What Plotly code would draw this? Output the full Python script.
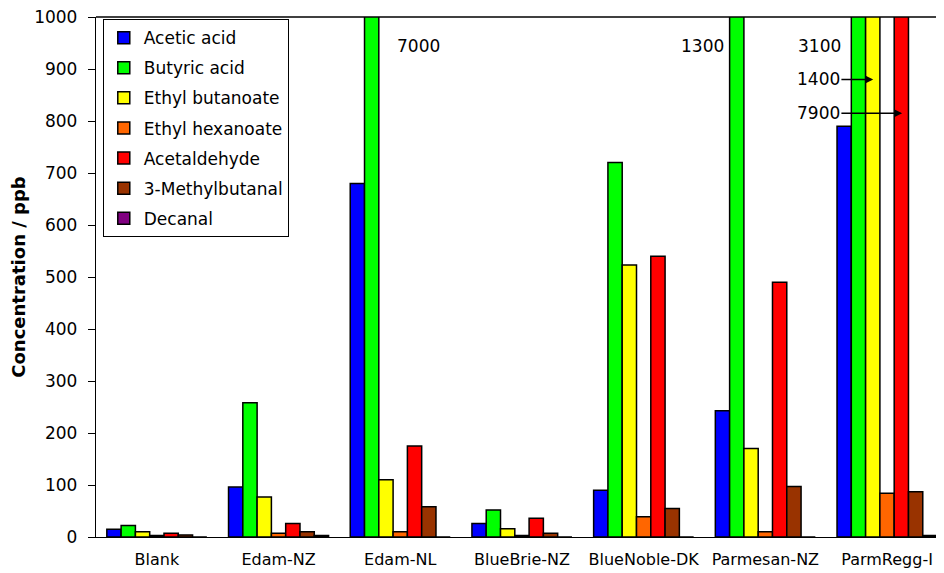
import plotly.graph_objects as go

categories = ["Blank", "Edam-NZ", "Edam-NL", "BlueBrie-NZ", "BlueNoble-DK", "Parmesan-NZ", "ParmRegg-I"]

acetic_acid = [15, 96, 680, 26, 90, 243, 790]
butyric_acid = [22, 258, 7000, 52, 720, 1300, 3100]
ethyl_butanoate = [10, 77, 110, 16, 523, 170, 1400]
ethyl_hexanoate = [3, 7, 10, 3, 39, 10, 84]
acetaldehyde = [7, 26, 175, 36, 540, 490, 7900]
methylbutanal = [4, 10, 58, 7, 55, 97, 87]
decanal = [0, 3, 0, 0, 0, 0, 3]

series = [
    ("Acetic acid", acetic_acid, "#0000FF"),
    ("Butyric acid", butyric_acid, "#00FF00"),
    ("Ethyl butanoate", ethyl_butanoate, "#FFFF00"),
    ("Ethyl hexanoate", ethyl_hexanoate, "#FF6600"),
    ("Acetaldehyde", acetaldehyde, "#FF0000"),
    ("3-Methylbutanal", methylbutanal, "#993300"),
    ("Decanal", decanal, "#800080"),
]

FONT = "DejaVu Sans, Arial, sans-serif"

fig = go.Figure()
for name, vals, col in series:
    fig.add_trace(go.Bar(
        name=name, x=categories, y=vals, legendgroup=name,
        marker=dict(color=col, line=dict(color="black", width=1.5)),
    ))

ann_font = dict(family=FONT, size=17, color="black")
annotations = [
    dict(x=1.958, y=945, text="7000", showarrow=False, xanchor="left", yanchor="middle"),
    dict(x=4.29, y=945, text="1300", showarrow=False, xanchor="left", yanchor="middle"),
    dict(x=5.25, y=945, text="3100", showarrow=False, xanchor="left", yanchor="middle"),
    dict(x=5.886, y=880, ax=5.625, ay=880, axref="x", ayref="y", text="1400",
         showarrow=True, xanchor="right", yanchor="middle", arrowhead=2, arrowsize=1,
         arrowwidth=1.5, arrowcolor="black", standoff=0, borderpad=0),
    dict(x=6.124, y=815, ax=5.625, ay=815, axref="x", ayref="y", text="7900",
         showarrow=True, xanchor="right", yanchor="middle", arrowhead=2, arrowsize=1,
         arrowwidth=1.5, arrowcolor="black", standoff=0, borderpad=0),
]
for a in annotations:
    a.update(xref="x", yref="y", font=ann_font)

fig.update_layout(
    width=936, height=565,
    margin=dict(l=88, r=0, t=9, b=36),
    paper_bgcolor="white", plot_bgcolor="white",
    font=dict(family=FONT, size=17, color="black"),
    barmode="group", bargap=0.178, bargroupgap=0,
    showlegend=True,
    legend=dict(
        x=0.008, y=0.996, xanchor="left", yanchor="top",
        bgcolor="white", bordercolor="black", borderwidth=1,
        font=dict(family=FONT, size=17, color="black"),
        tracegroupgap=5,
    ),
    annotations=annotations,
    shapes=[dict(type="line", xref="paper", yref="paper", x0=0, x1=1, y0=1, y1=1,
                 line=dict(color="black", width=1.3), layer="above")],
    xaxis=dict(
        type="category", range=[-0.5, 6.468],
        showline=True, linecolor="black", linewidth=1.3,
        ticks="", showgrid=False, tickfont=dict(family=FONT, size=16),
        ticklabelstandoff=8,
    ),
    yaxis=dict(
        range=[0, 1000], tickvals=list(range(0, 1001, 100)),
        showline=True, linecolor="black", linewidth=1.3,
        ticks="outside", ticklen=7, tickcolor="black", tickwidth=1.3,
        showgrid=False, zeroline=False,
        tickfont=dict(family=FONT, size=17),
        ticklabelstandoff=7, ticklabeloverflow="allow",
        title=dict(text="<b>Concentration / ppb</b>", font=dict(family=FONT, size=18), standoff=10),
    ),
)

fig.write_html("out.html")
